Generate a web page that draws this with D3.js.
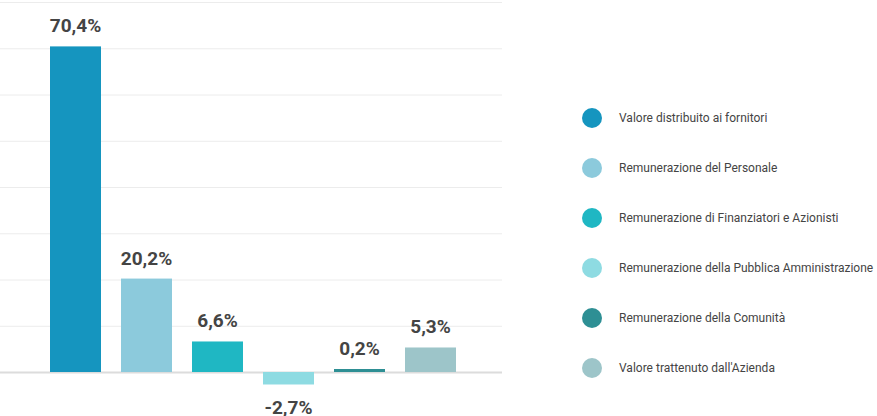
<!DOCTYPE html><html><head><meta charset="utf-8"><script src="https://cdn.jsdelivr.net/npm/d3@7"></script>
<style>body{margin:0;background:#fff}</style></head><body><svg id="c" width="877" height="416"></svg><script>
const categories=["Valore distribuito ai fornitori","Remunerazione del Personale","Remunerazione di Finanziatori e Azionisti","Remunerazione della Pubblica Amministrazione","Remunerazione della Comunità","Valore trattenuto dall'Azienda"];
const values=[70.4,20.2,6.6,-2.7,0.2,5.3];
const labels=["70,4%","20,2%","6,6%","-2,7%","0,2%","5,3%"];
const colors=["#1595bf","#8ccadc","#1fb7c3","#8edbe2","#2e8f94","#9dc5c9"];
const ticks=[0,10,20,30,40,50,60,70,80];
const svg=d3.select("#c");
const y=d3.scaleLinear().domain([0,80]).range([372,2]);
const x=d3.scaleBand().domain(d3.range(6)).range([50,456]).paddingInner(20/71).paddingOuter(0);
svg.selectAll("line.g").data(ticks).join("line").attr("x1",0).attr("x2",502)
 .attr("y1",d=>y(d)+.5).attr("y2",d=>y(d)+.5).attr("stroke",d=>d===0?"#dcdcdc":"#ececec").attr("stroke-width",d=>d===0?2:1);
svg.selectAll("rect.b").data(values).join("rect").attr("x",(d,i)=>x(i)).attr("width",x.bandwidth())
 .attr("y",d=>d>=0?Math.min(y(d),y(0)-3):y(0)).attr("height",d=>d>=0?Math.max(y(0)-y(d),3):y(d)-y(0)).attr("fill",(d,i)=>colors[i]);
svg.selectAll("text.l").data(values).join("text").attr("x",(d,i)=>x(i)+x.bandwidth()/2)
 .attr("y",d=>d>=0?Math.min(y(d),y(0)-3)-14:y(d)+30).attr("text-anchor","middle")
 .attr("font-family","Roboto").attr("font-weight","bold").attr("font-size",19).attr("fill","#444").text((d,i)=>labels[i]);
const lg=svg.selectAll("g.lg").data(categories).join("g").attr("transform",(d,i)=>`translate(592,${118+i*50})`);
lg.append("circle").attr("r",10).attr("fill",(d,i)=>colors[i]);
lg.append("text").attr("x",27).attr("dy","0.35em").attr("font-family","Roboto").attr("font-size",12).attr("fill","#444").text(d=>d);
</script></body></html>
